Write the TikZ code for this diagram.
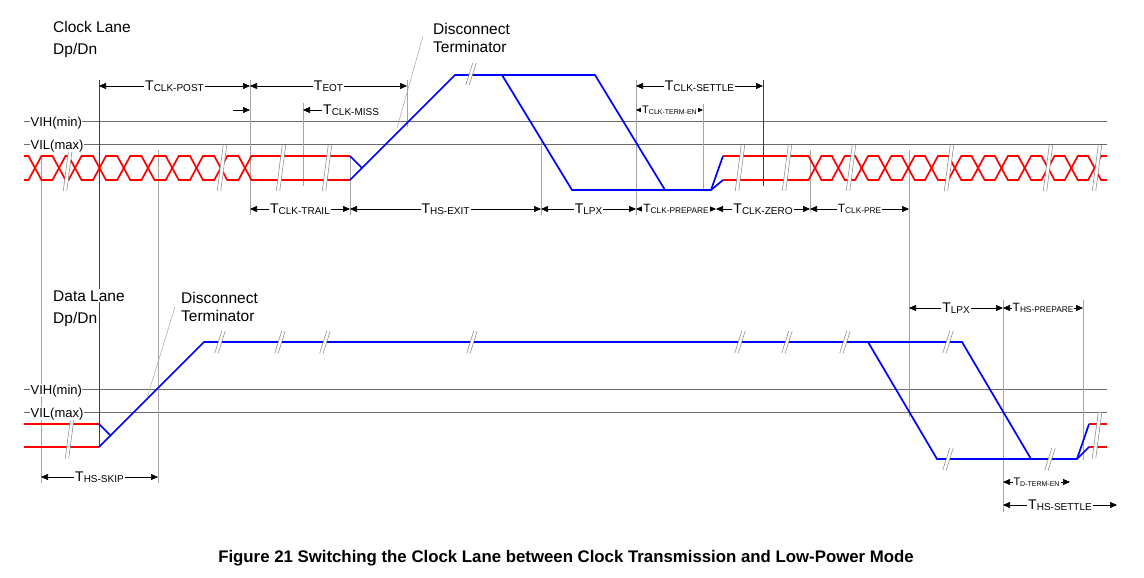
\documentclass[tikz,border=0pt]{standalone}
\usepackage{fontspec}
\setmainfont{Liberation Sans}
\usepackage{xcolor}
\definecolor{hsred}{RGB}{255,0,0}
\definecolor{lpblue}{RGB}{0,0,255}
\definecolor{refgray}{RGB}{165,165,165}
\definecolor{levgray}{RGB}{105,105,105}
\usetikzlibrary{arrows.meta}
\tikzstyle{hssig}=[draw=hsred, line width=1.7pt]
\tikzstyle{lpsig}=[draw=lpblue, line width=1.7pt]
\tikzstyle{thresh}=[draw=levgray, line width=0.7pt]
\tikzstyle{refline}=[draw=refgray, line width=0.5pt]
\tikzstyle{refdark}=[draw=black!75, line width=0.6pt]
\tikzstyle{breakline}=[draw=gray, line width=0.5pt]
\tikzstyle{dimline}=[draw=black, line width=0.6pt,
  {Triangle[length=7pt,width=6pt]}-{Triangle[length=7pt,width=6pt]}]
\tikzstyle{dimone}=[draw=black, line width=0.6pt, -{Triangle[length=7pt,width=6pt]}]
\tikzstyle{dimlabel}=[fill=white, inner sep=1pt]
\tikzstyle{lanetext}=[fill=white, inner sep=1pt, anchor=base west,
  font=\fontsize{15.5}{18}\selectfont]
\tikzstyle{leveltext}=[fill=white, inner sep=0.5pt, anchor=base west,
  font=\fontsize{13}{15}\selectfont]
% timing labels: big T with lowered subscript
\newcommand{\tbig}[1]{{\fontsize{14}{14}\selectfont T}\raisebox{-1.5pt}{\fontsize{10}{10}\selectfont #1}}
\newcommand{\tmid}[1]{{\fontsize{12}{12}\selectfont T}\raisebox{-1.2pt}{\fontsize{8.3}{8.3}\selectfont #1}}
\newcommand{\tsml}[1]{{\fontsize{11}{11}\selectfont T}\raisebox{-1pt}{\fontsize{7}{7}\selectfont #1}}
\newcommand{\tdim}[5]{\draw[dimline] (#1,#3) -- (#2,#3) node[dimlabel, midway] (#4) {#5};}
\newcommand{\sigbreak}[4]{%
  \fill[white] (#1-1.75-#4,#2+#3) -- (#1-1.75+#4,#2-#3) -- (#1+1.75+#4,#2-#3) -- (#1+1.75-#4,#2+#3) -- cycle;
  \draw[breakline] (#1-1.75-#4,#2+#3) -- (#1-1.75+#4,#2-#3) (#1+1.75-#4,#2+#3) -- (#1+1.75+#4,#2-#3);}

\begin{document}
\begin{tikzpicture}[x=1pt, y=-1pt]
  \useasboundingbox (0,0) rectangle (1144,578);
  % VIH / VIL levels
  \draw[thresh] (24,121) -- (1107,121);
  \draw[thresh] (24,144) -- (1107,144);
  \draw[thresh] (24,389) -- (1107,389);
  \draw[thresh] (24,412) -- (1107,412);
  % reference lines
  \foreach \x/\ya/\yb in {41/155/483, 158/150/483, 250/80/215, 303/103/186, 350/156/215,
      407/80/127, 541/142/215, 636/80/215, 703/104/190, 810/150/212, 909/150/417,
      1003/300/512, 1083/300/460}
    \draw[refline] (\x,\ya) -- (\x,\yb);
  \draw[refdark] (99,80) -- (99,447);
  \draw[refdark] (763,80) -- (763,186);

  % clock lane
  \draw[hssig] (24,156) \foreach \c [count=\i] in {35,59,75,99.5,123.75,148,172.25,196.5,220.75,245}
    { -- (\c-6.5,{168+12*cos(180*\i)}) -- (\c+6.5,{168-12*cos(180*\i)}) } -- (350,156);
  \draw[hssig] (24,180) \foreach \c [count=\i] in {35,59,75,99.5,123.75,148,172.25,196.5,220.75,245}
    { -- (\c-6.5,{168-12*cos(180*\i)}) -- (\c+6.5,{168+12*cos(180*\i)}) } -- (350,180);
  \draw[lpsig] (350,156) -- (362,168);
  \draw[lpsig] (350,180) -- (455,75) -- (595,75) -- (665,190) -- (711,190) -- (723,156);
  \draw[lpsig] (502,75) -- (572,190) -- (665,190);
  \draw[lpsig] (711,190) -- (723,180);
  \draw[hssig] (723,156) \foreach \i in {0,...,12}
    { -- ({815+23.3*\i-6.5},{168-12*cos(180*\i)}) -- ({815+23.3*\i+6.5},{168+12*cos(180*\i)}) } -- (1107,180);
  \draw[hssig] (723,180) \foreach \i in {0,...,12}
    { -- ({815+23.3*\i-6.5},{168+12*cos(180*\i)}) -- ({815+23.3*\i+6.5},{168-12*cos(180*\i)}) } -- (1107,156);
  \foreach \x in {68,222,281,327,740,787,851,949,1048,1097}
    \sigbreak{\x}{168}{23}{3};
  \sigbreak{471}{74}{11}{3.5};

  % data lane
  \draw[hssig] (24,424) -- (99,424);
  \draw[hssig] (24,447) -- (99,447);
  \draw[lpsig] (99,424) -- (111,436);
  \draw[lpsig] (99,447) -- (204,342) -- (962,342) -- (1031,459) -- (1077,459) -- (1089,424);
  \draw[lpsig] (868,342) -- (937,459) -- (1031,459);
  \draw[lpsig] (1077,459) -- (1089,447);
  \draw[hssig] (1089,424) -- (1107,424);
  \draw[hssig] (1089,447) -- (1107,447);
  \sigbreak{70}{435.5}{23}{3};
  \sigbreak{1097}{435.5}{23}{3};
  \foreach \x in {220,280,325,472,740,787,845,948}
    \sigbreak{\x}{342}{11}{3.5};
  \foreach \x in {948,1050}
    \sigbreak{\x}{459}{11}{3.5};

  % timing
  \tdim{99}{250}{86}{tclkpost}{\tbig{CLK-POST}}
  \tdim{250}{407}{86}{teot}{\tbig{EOT}}
  \draw[dimone] (233,110) -- (250,110);
  \draw[dimone] (322,110) -- (303,110);
  \node[dimlabel, anchor=west] (tclkmiss) at (322,110) {\tbig{CLK-MISS}};
  \tdim{250}{350}{209}{tclktrail}{\tbig{CLK-TRAIL}}
  \tdim{350}{541}{209}{thsexit}{\tbig{HS-EXIT}}
  \tdim{541}{636}{209}{tlpxclk}{\tbig{LPX}}
  \tdim{636}{716}{209}{tclkprep}{\tmid{CLK-PREPARE}}
  \tdim{716}{810}{209}{tclkzero}{\tbig{CLK-ZERO}}
  \tdim{810}{909}{209}{tclkpre}{\tmid{CLK-PRE}}
  \tdim{636}{763}{86}{tclksettle}{\tbig{CLK-SETTLE}}
  \tdim{636}{703}{110}{tclktermen}{\tsml{CLK-TERM-EN}}
  \tdim{909}{1003}{308}{tlpxdat}{\tbig{LPX}}
  \tdim{1003}{1083}{308}{thsprep}{\tmid{HS-PREPARE}}
  \tdim{1003}{1070}{482}{tdtermen}{\tsml{D-TERM-EN}}
  \tdim{1003}{1117}{505}{thssettle}{\tbig{HS-SETTLE}}
  \tdim{41}{158}{477}{thsskip}{\tbig{HS-SKIP}}

  % texts
  \node[lanetext] (clklane) at (52,33) {Clock Lane};
  \node[lanetext] (clkdpdn) at (52,55) {Dp/Dn};
  \node[lanetext, fill=none] (clkdisc) at (432,35) {Disconnect};
  \node[lanetext, fill=none] (clkterm) at (432,53) {Terminator};
  \draw[refline] (397,128) -- (423,36);
  \node[lanetext] (datlane) at (52,301) {Data Lane};
  \node[lanetext] (datdpdn) at (52,323) {Dp/Dn};
  \node[lanetext, fill=none] (datdisc) at (180,303) {Disconnect};
  \node[lanetext, fill=none] (datterm) at (180,321) {Terminator};
  \draw[refline] (147,398) -- (175,307);
  \node[leveltext] (vihclk) at (30,126) {VIH(min)};
  \node[leveltext] (vilclk) at (30,149) {VIL(max)};
  \node[leveltext] (vihdat) at (30,394) {VIH(min)};
  \node[leveltext] (vildat) at (30,417) {VIL(max)};
  \node[anchor=base, font=\bfseries\fontsize{16.8}{19}\selectfont] (caption) at (566,562)
    {Figure 21 Switching the Clock Lane between Clock Transmission and Low-Power Mode};
\end{tikzpicture}
\end{document}
